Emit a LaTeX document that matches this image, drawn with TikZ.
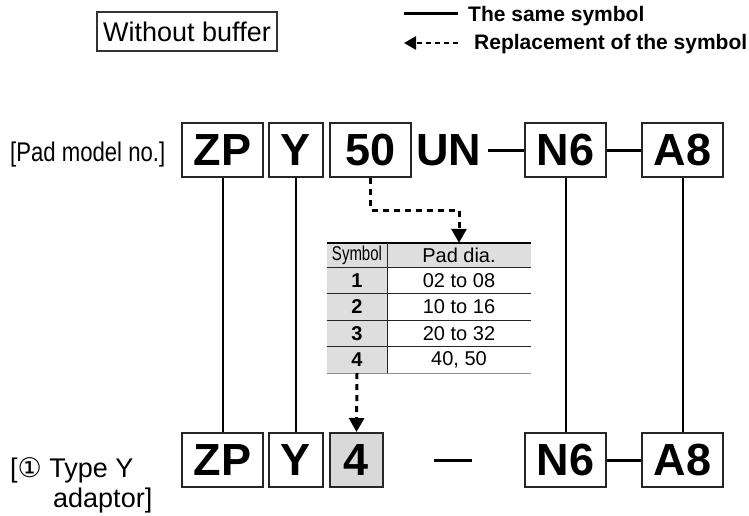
\documentclass[tikz,border=0pt]{standalone}
\usepackage{fontspec}
\setmainfont{Liberation Sans}
\newfontfamily\circfont{DejaVu Sans}
\newfontfamily\condfont[FakeStretch=0.75]{Liberation Sans}
\newfontfamily\narrowfont[FakeStretch=0.82]{Liberation Sans}
\usetikzlibrary{arrows.meta}
\begin{document}
\begin{tikzpicture}[x=1pt,y=-1pt,
  codebox/.style={draw=black!85, line width=2pt, minimum height=54pt, inner sep=0pt,
    font=\fontsize{45}{45}\selectfont\bfseries},
  codetext/.style={inner sep=0pt, font=\fontsize{45}{45}\selectfont\bfseries},
  conn/.style={line width=2pt, black},
  dashconn/.style={line width=3pt, black},
  repl/.style={line width=3pt, dash pattern=on 6pt off 5pt, -{Triangle[length=14pt,width=15pt]}},
  cellfill/.style={fill=black!13},
  hdrcell/.style={minimum height=24pt, inner sep=0pt, font=\fontsize{20}{20}\selectfont},
  rowcell/.style={minimum height=26.5pt, inner sep=0pt, font=\fontsize{20}{20}\selectfont},
  tline/.style={line width=1.3pt, black!85},
  legendtext/.style={inner sep=0pt, anchor=base west, font=\fontsize{21}{21}\selectfont\bfseries},
  labeltext/.style={inner sep=0pt, anchor=base west, font=\fontsize{27}{27}\selectfont},
]
\useasboundingbox (0,0) rectangle (749,516);

% header box
\node[draw=black!80, line width=1.3pt, minimum width=180pt, minimum height=39pt, inner sep=0pt,
  font=\fontsize{27}{27}\selectfont] (wb) at (187,31.5) {Without buffer};

% legend
\coordinate (l1a) at (404,14);
\coordinate (l1b) at (458,14);
\draw[dashconn] (l1a) -- (l1b);
\node[legendtext] (lt1) at (468,22) {The same symbol};
\coordinate (l2a) at (404,43);
\coordinate (l2b) at (458,43);
\draw[line width=2.5pt, dash pattern=on 5pt off 4pt, -{Triangle[length=12pt,width=13pt]}] (l2b) -- (l2a);
\node[legendtext] (lt2) at (474,50) {Replacement of the symbol};

% labels
\node[labeltext, font=\fontsize{27}{27}\narrowfont] (padlab) at (10,161) {[Pad model no.]};
\node[labeltext] (typlab1) at (10,477) {[{\circfont ①} Type Y};
\node[labeltext] (typlab2) at (53,507) {adaptor]};

% top row
\node[codebox, minimum width=81pt] (tZP) at (222.5,150) {ZP};
\node[codebox, minimum width=54pt] (tY) at (296,150) {Y};
\node[codebox, minimum width=81pt] (t50) at (370.5,150) {50};
\node[codetext] (tUN) at (448.5,150) {UN};
\node[codebox, minimum width=81pt] (tN6) at (565.5,150) {N6};
\node[codebox, minimum width=81pt] (tA8) at (682.5,150) {A8};
\coordinate (unend) at (488,150);
\draw[dashconn] (unend) -- (tN6.west);
\draw[dashconn] (tN6.east) -- (tA8.west);

% bottom row
\node[codebox, minimum width=81pt] (bZP) at (222.5,460) {ZP};
\node[codebox, minimum width=54pt] (bY) at (296,460) {Y};
\node[codebox, minimum width=53pt, fill=black!15] (b4) at (356.5,460) {4};
\coordinate (bda) at (434,460);
\coordinate (bdb) at (472,460);
\draw[dashconn] (bda) -- (bdb);
\node[codebox, minimum width=81pt] (bN6) at (565.5,460) {N6};
\node[codebox, minimum width=81pt] (bA8) at (682.5,460) {A8};
\draw[dashconn] (bN6.east) -- (bA8.west);

% vertical connectors
\draw[conn] (tZP.south) -- (bZP.north);
\draw[conn] (tY.south) -- (bY.north);
\draw[conn] (tN6.south) -- (bN6.north);
\draw[conn] (tA8.south) -- (bA8.north);

% table
\node[hdrcell, cellfill, minimum width=60pt] (hS) at (357,255) {\condfont Symbol};
\node[hdrcell, cellfill, minimum width=144pt] (hP) at (459,255) {Pad dia.};
\node[rowcell, cellfill, minimum width=60pt, font=\fontsize{20}{20}\selectfont\bfseries] (s1) at (357,280.25) {1};
\node[rowcell, minimum width=144pt] (p1) at (459,280.25) {02 to 08};
\node[rowcell, cellfill, minimum width=60pt, font=\fontsize{20}{20}\selectfont\bfseries] (s2) at (357,306.75) {2};
\node[rowcell, minimum width=144pt] (p2) at (459,306.75) {10 to 16};
\node[rowcell, cellfill, minimum width=60pt, font=\fontsize{20}{20}\selectfont\bfseries] (s3) at (357,333.25) {3};
\node[rowcell, minimum width=144pt] (p3) at (459,333.25) {20 to 32};
\node[rowcell, cellfill, minimum width=60pt, font=\fontsize{20}{20}\selectfont\bfseries] (s4) at (357,359.75) {4};
\node[rowcell, minimum width=144pt] (p4) at (459,359.75) {40, 50};
\draw[line width=2pt, black] (hS.north west) -- (hP.north east);
\draw[tline] (hS.south west) -- (hP.south east);
\draw[tline] (s1.south west) -- (p1.south east);
\draw[tline] (s2.south west) -- (p2.south east);
\draw[tline] (s3.south west) -- (p3.south east);
\draw[tline, black!45] (s4.south west) -- (p4.south east);
\draw[tline] (hS.north east) -- (s4.south east);

% replacement arrows
\draw[repl] (t50.south) -- ++(0,32) -| (hP.north);
\draw[repl] (s4.south) -- (b4.north);
\end{tikzpicture}
\end{document}
